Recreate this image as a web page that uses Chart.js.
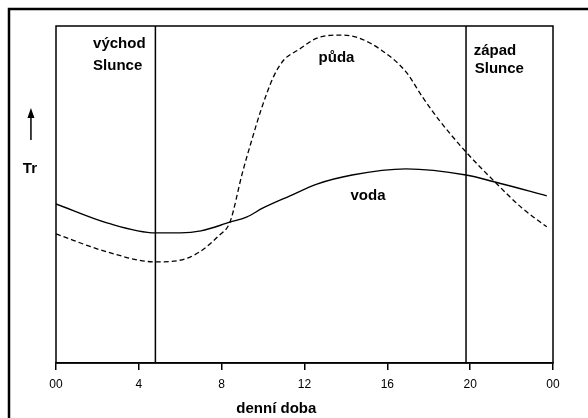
<!DOCTYPE html>
<html>
<head>
<meta charset="utf-8">
<script src="https://cdn.jsdelivr.net/npm/chart.js@4/dist/chart.umd.min.js"></script>
<style>
  body { margin: 0; background: #fff; }
  #chart { display: block; }
</style>
</head>
<body>
<canvas id="chart" width="588" height="418"></canvas>
<script>
// hodiny (x) a relativni teplota (y, 0-100)
const pudaHours = [0, 2.5, 4.8, 6.5, 7.9, 8.4, 9.0, 9.5, 9.9, 10.5, 11.0, 11.7, 12.6, 13.6, 14.5, 15.7, 16.9, 17.7, 18.5, 19.8, 21.2, 22.5, 23.7];
const pudaTemp  = [38.3, 32.9, 30.0, 31.5, 38.0, 41.8, 56.4, 67.1, 75.1, 84.9, 89.9, 92.9, 96.4, 97.3, 96.7, 92.9, 86.4, 78.9, 72.1, 62.6, 53.7, 46.0, 40.4];

const vodaHours = [0, 2.5, 4.8, 6.0, 7.0, 8.4, 9.2, 10.0, 11.3, 12.6, 14.3, 16.9, 19.8, 21.2, 23.7];
const vodaTemp  = [47.2, 41.5, 38.6, 38.6, 39.2, 41.8, 43.3, 46.0, 49.6, 53.1, 55.8, 57.6, 55.8, 53.7, 49.6];

const sunrise = 4.8;
const sunset = 19.8;

const tickHours = [0, 4, 8, 12, 16, 20, 24];
const tickLabels = ['00', '4', '8', '12', '16', '20', '00'];

// popisky: text + kotva v datovych souradnicich [hodina, hodnota]
const noteTexts = ['východ', 'Slunce', 'půda', 'voda', 'západ', 'Slunce', 'Tr'];
const noteAnchors = [[1.79, 93.5], [1.79, 86.9], [12.68, 89.3], [14.22, 48.4], [20.17, 91.4], [20.22, 86.2], [-1.6, 56.4]];
const axisTitle = 'denní doba';
const axisTitleAnchor = [10.64, -14.8];
const arrowAnchor = [-1.21, 66.2, 75.7];

const toXY = (xs, ys) => xs.map((x, i) => ({ x: x, y: ys[i] }));

const decor = {
  id: 'decor',
  beforeDraw(chart) {
    const ctx = chart.ctx;
    ctx.save();
    ctx.fillStyle = '#fff';
    ctx.fillRect(0, 0, chart.width, chart.height);
    // vnejsi ramecek
    ctx.strokeStyle = '#000';
    ctx.lineWidth = 2.5;
    ctx.strokeRect(9, 9, chart.width + 20, chart.height + 20);
    ctx.restore();
  },
  afterDatasetsDraw(chart) {
    const ctx = chart.ctx;
    const a = chart.chartArea;
    const xs = chart.scales.x, ys = chart.scales.y;
    ctx.save();
    ctx.strokeStyle = '#000';
    ctx.lineWidth = 1.5;
    ctx.strokeRect(a.left, a.top, a.right - a.left, a.bottom - a.top);

    ctx.fillStyle = '#000';
    ctx.font = 'bold 15px "Liberation Sans", Arial, sans-serif';
    ctx.textAlign = 'left';
    ctx.textBaseline = 'alphabetic';
    noteTexts.forEach((t, i) => {
      ctx.fillText(t, xs.getPixelForValue(noteAnchors[i][0]), ys.getPixelForValue(noteAnchors[i][1]));
    });
    ctx.textAlign = 'center';
    ctx.fillText(axisTitle, xs.getPixelForValue(axisTitleAnchor[0]), ys.getPixelForValue(axisTitleAnchor[1]));

    // sipka nad Tr
    const ax = xs.getPixelForValue(arrowAnchor[0]);
    const y0 = ys.getPixelForValue(arrowAnchor[1]);
    const y1 = ys.getPixelForValue(arrowAnchor[2]);
    ctx.lineWidth = 1.5;
    ctx.beginPath();
    ctx.moveTo(ax, y0);
    ctx.lineTo(ax, y1 + 6);
    ctx.stroke();
    ctx.beginPath();
    ctx.moveTo(ax, y1);
    ctx.lineTo(ax - 3.5, y1 + 10);
    ctx.lineTo(ax + 3.5, y1 + 10);
    ctx.closePath();
    ctx.fill();
    ctx.restore();
  }
};

new Chart(document.getElementById('chart'), {
  type: 'scatter',
  data: {
    datasets: [
      {
        label: 'půda',
        data: toXY(pudaHours, pudaTemp),
        showLine: true,
        borderColor: '#000',
        borderWidth: 1.3,
        borderDash: [5, 3],
        cubicInterpolationMode: 'monotone',
        pointRadius: 0
      },
      {
        label: 'voda',
        data: toXY(vodaHours, vodaTemp),
        showLine: true,
        borderColor: '#000',
        borderWidth: 1.4,
        cubicInterpolationMode: 'monotone',
        pointRadius: 0
      },
      {
        label: 'východ',
        data: [{ x: sunrise, y: 0 }, { x: sunrise, y: 100 }],
        showLine: true,
        borderColor: '#000',
        borderWidth: 1.5,
        pointRadius: 0
      },
      {
        label: 'západ',
        data: [{ x: sunset, y: 0 }, { x: sunset, y: 100 }],
        showLine: true,
        borderColor: '#000',
        borderWidth: 1.5,
        pointRadius: 0
      }
    ]
  },
  options: {
    responsive: false,
    animation: false,
    layout: { padding: { left: 56, top: 26, right: 35, bottom: 0 } },
    plugins: {
      legend: { display: false },
      tooltip: { enabled: false }
    },
    scales: {
      x: {
        type: 'linear',
        min: 0,
        max: 24,
        afterBuildTicks: (scale) => { scale.ticks = tickHours.map(v => ({ value: v })); },
        afterFit: (scale) => { scale.height = 55; },
        ticks: {
          color: '#000',
          padding: 7,
          maxRotation: 0,
          autoSkip: false,
          font: { family: '"Liberation Sans", Arial, sans-serif', size: 12 },
          callback: (v) => tickLabels[tickHours.indexOf(v)]
        },
        grid: { drawOnChartArea: false, drawTicks: true, tickLength: 7, color: '#000', lineWidth: 1.5 },
        border: { display: true, color: '#000', width: 1.5 }
      },
      y: {
        display: false,
        min: 0,
        max: 100
      }
    }
  },
  plugins: [decor]
});
</script>
</body>
</html>
